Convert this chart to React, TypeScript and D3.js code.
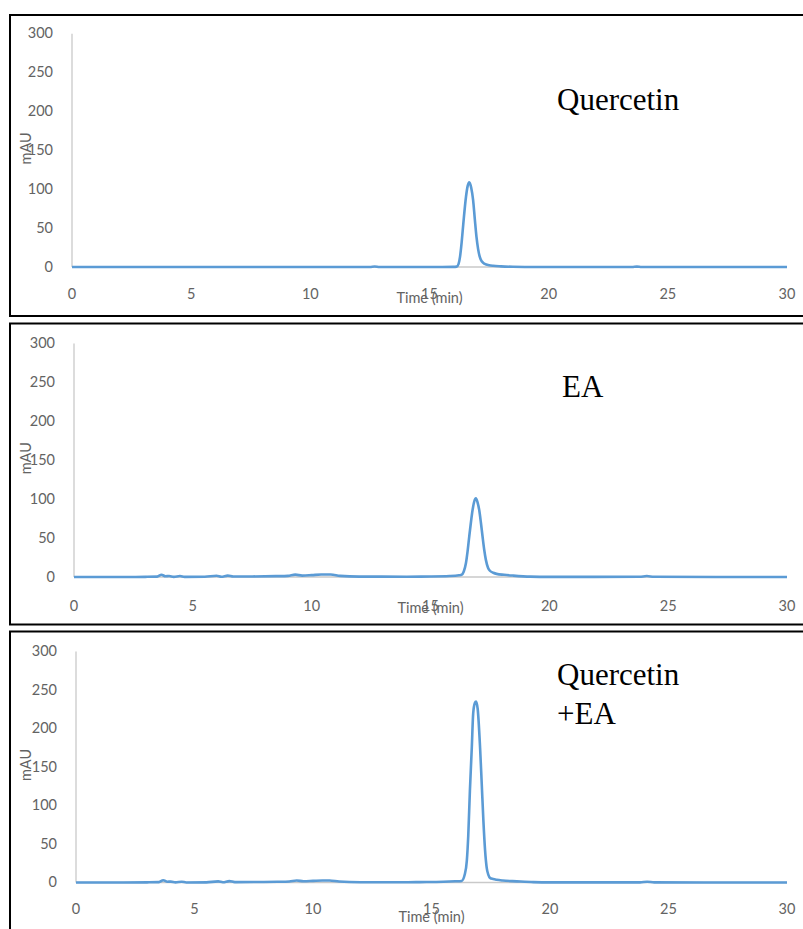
import React from "react";
import * as d3 from "d3";

// Chromatogram traces, [time (min), absorbance (mAU)]
const quercetinTrace: [number, number][] = [
  [0, 0], [5, 0], [10, 0], [12.5, 0], [12.7, 0.6], [12.9, 0], [15.5, 0], [16.0, 0.1],
  [16.14, 0.5], [16.22, 4], [16.28, 13], [16.35, 32], [16.42, 56], [16.53, 90],
  [16.6, 104], [16.67, 109], [16.75, 102], [16.83, 86], [16.9, 62], [16.97, 39],
  [17.04, 23], [17.11, 13], [17.2, 7], [17.32, 4], [17.5, 2.3], [17.67, 1.5],
  [18, 0.8], [18.5, 0.3], [19.5, 0], [23.5, 0], [23.7, 0.5], [23.9, 0], [30, 0],
];

const eaTrace: [number, number][] = [
  [0, 0], [2, 0], [3, 0.2], [3.5, 0.5], [3.68, 2.8], [3.85, 1], [4.0, 1.3], [4.2, 0.2],
  [4.46, 1.2], [4.65, 0.1], [5.5, 0.3], [6.0, 1.6], [6.2, 0.4], [6.47, 1.8], [6.7, 0.6],
  [7.5, 0.7], [8.5, 1.1], [9.0, 1.5], [9.31, 3], [9.6, 1.8], [10.0, 2.4], [10.4, 3.2],
  [10.8, 3.2], [11.2, 1.4], [12, 0.5], [14, 0.4], [15, 0.6], [15.8, 1.2], [16.2, 2.2],
  [16.31, 2.8], [16.4, 7], [16.49, 17.6], [16.56, 33], [16.63, 52], [16.7, 70],
  [16.77, 86], [16.84, 97], [16.91, 101], [16.98, 96], [17.05, 86], [17.12, 70],
  [17.19, 52], [17.26, 35], [17.33, 22], [17.42, 12], [17.5, 8], [17.64, 5.5],
  [17.78, 4], [18.1, 2.8], [18.48, 1.8], [19.2, 0.5], [20, 0.2], [23.8, 0.3],
  [24.1, 1.2], [24.4, 0.3], [27, 0], [30, 0],
];

const mixTrace: [number, number][] = [
  [0, 0], [2, 0], [3, 0.2], [3.5, 0.5], [3.68, 3], [3.85, 1], [4.0, 1.2], [4.2, 0.1],
  [4.46, 1], [4.65, 0], [5.5, 0.2], [6.0, 1.4], [6.2, 0.3], [6.47, 1.8], [6.7, 0.5],
  [7.5, 0.6], [8.5, 0.9], [9.0, 1.3], [9.31, 2.6], [9.6, 1.6], [10.0, 2.1], [10.4, 2.6],
  [10.7, 2.6], [11.1, 1.2], [12, 0.4], [14, 0.3], [14.5, 0.5], [15.5, 1], [16.0, 1.6],
  [16.27, 2], [16.4, 10], [16.49, 28], [16.55, 60], [16.62, 119], [16.7, 175],
  [16.76, 220], [16.83, 233], [16.88, 235], [16.95, 225], [17.05, 175], [17.12, 128],
  [17.19, 80], [17.26, 42], [17.33, 19], [17.4, 10], [17.47, 6], [17.6, 4.5],
  [17.75, 3.5], [18.0, 2.5], [18.6, 1.5], [19.3, 0.5], [20, 0.2], [23.8, 0.2],
  [24.1, 0.9], [24.4, 0.2], [27, 0], [30, 0],
];

const xTicks = [0, 5, 10, 15, 20, 25, 30];
const yTicks = [0, 50, 100, 150, 200, 250, 300];
const xLabel = "Time (min)";
const yLabel = "mAU";

// panel layout (pixels)
const panels = [
  { trace: quercetinTrace, title: ["Quercetin"], boxTop: 15, boxH: 301, x0: 72, x1: 787, yZero: 267, yTop: 33.7, titleX: 557, titleY: 110, timeDy: 30, tickDy: 26.5 },
  { trace: eaTrace, title: ["EA"], boxTop: 323.5, boxH: 301, x0: 74, x1: 787, yZero: 577, yTop: 343.5, titleX: 562, titleY: 397, timeDy: 30, tickDy: 28.5 },
  { trace: mixTrace, title: ["Quercetin", "+EA"], boxTop: 631.5, boxH: 310, x0: 76, x1: 787, yZero: 882.5, yTop: 651.5, titleX: 557, titleY: 685, timeDy: 34, tickDy: 26 },
];

const blue = "#5B9BD5";
const tickColor = "#636363";
const axisColor = "#C9C9C9";
const sans = "Lato, 'Open Sans', sans-serif";

function Panel({ p }: { p: (typeof panels)[number] }) {
  const x = d3.scaleLinear().domain([0, 30]).range([p.x0, p.x1]);
  const y = d3.scaleLinear().domain([0, 300]).range([p.yZero, p.yTop]);
  const line = d3
    .line<[number, number]>()
    .x((d) => x(d[0]))
    .y((d) => y(d[1]))
    .curve(d3.curveMonotoneX);

  return (
    <g>
      <rect x={10} y={p.boxTop} width={810} height={p.boxH} fill="#fff" stroke="#000" strokeWidth={2} />
      {/* axis lines */}
      <line x1={x(0)} x2={x(0)} y1={y(300)} y2={y(0)} stroke={axisColor} strokeWidth={1.3} />
      <line x1={x(0)} x2={x(30)} y1={y(0)} y2={y(0)} stroke={axisColor} strokeWidth={1.3} />
      {yTicks.map((t) => (
        <text key={"y" + t} x={x(0) - 19} y={y(t) - 1} textAnchor="end" dominantBaseline="central"
          fontFamily={sans} fontSize={14.5} fill={tickColor}>{t}</text>
      ))}
      {xTicks.map((t) => (
        <text key={"x" + t} x={x(t)} y={y(0) + p.tickDy} textAnchor="middle" dominantBaseline="central"
          fontFamily={sans} fontSize={14.5} fill={tickColor}>{t}</text>
      ))}
      <text x={x(15)} y={y(0) + p.timeDy} textAnchor="middle" dominantBaseline="central"
        fontFamily={sans} fontSize={14.5} fill={tickColor}>{xLabel}</text>
      <text transform={`translate(25,${y(150) - 2}) rotate(-90)`} textAnchor="middle" dominantBaseline="central"
        fontFamily={sans} fontSize={14.5} fill={tickColor}>{yLabel}</text>
      <path d={line(p.trace) || ""} fill="none" stroke={blue} strokeWidth={2.6} strokeLinejoin="round" />
      {p.title.map((s, i) => (
        <text key={s} x={p.titleX} y={p.titleY + i * 39} fontFamily="'Liberation Serif', 'Times New Roman', serif"
          fontSize={31} fill="#000">{s}</text>
      ))}
    </g>
  );
}

export default function App() {
  return (
    <svg width={803} height={929} style={{ position: "absolute", left: 0, top: 0, background: "#fff" }}>
      <rect width={803} height={929} fill="#fff" />
      {panels.map((p, i) => (
        <Panel key={i} p={p} />
      ))}
    </svg>
  );
}
